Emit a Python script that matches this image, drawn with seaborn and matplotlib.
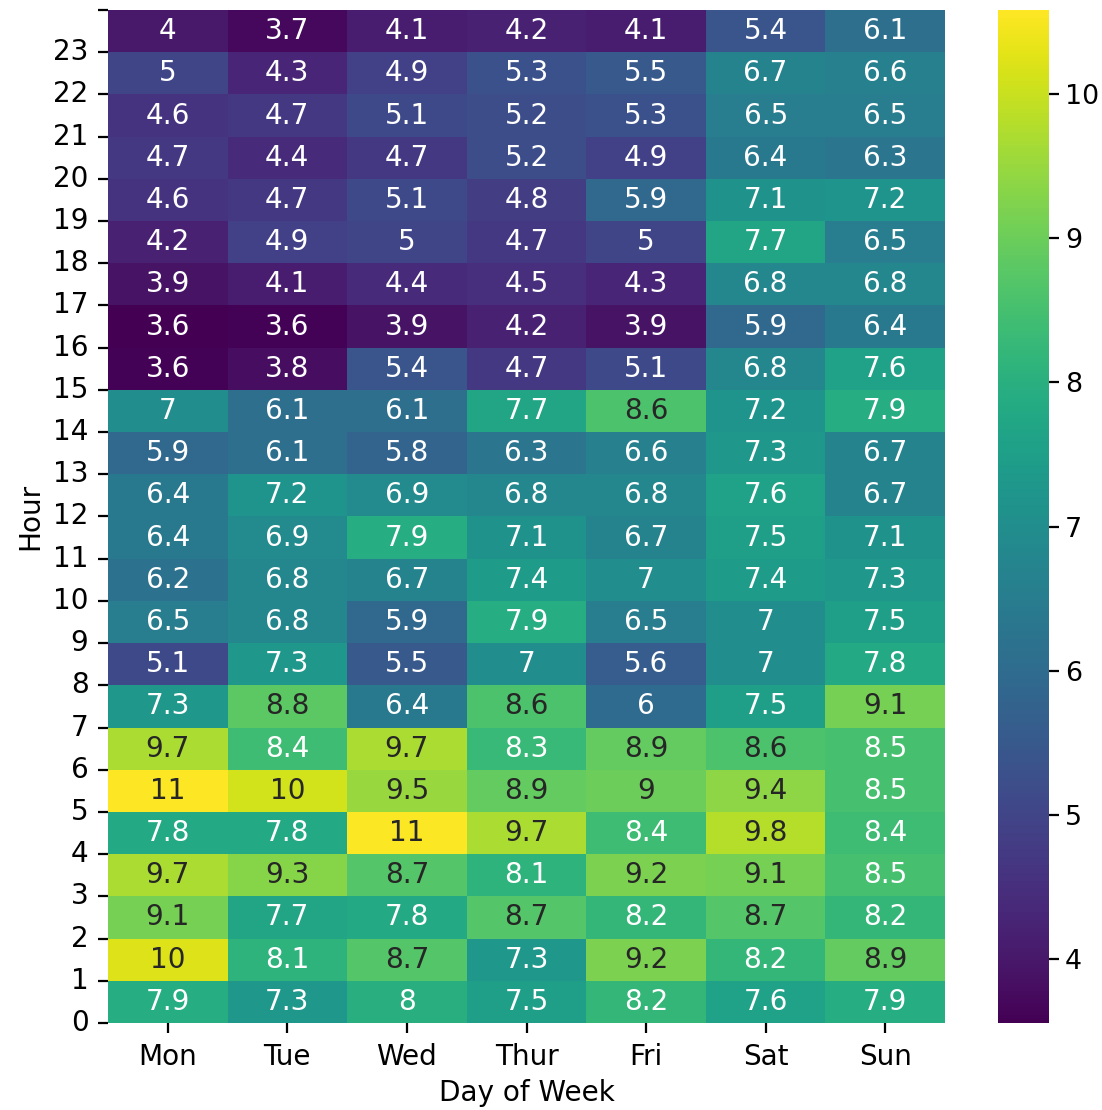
import numpy as np
import pandas as pd
import matplotlib
matplotlib.use('Agg')
import matplotlib.pyplot as plt
import seaborn as sns

days = ['Mon', 'Tue', 'Wed', 'Thur', 'Fri', 'Sat', 'Sun']
hours = list(range(24))

# one list per hour, 0 -> 23, values per day Mon..Sun
h00 = [7.9, 7.3, 8.0, 7.5, 8.2, 7.6, 7.9]
h01 = [10.2, 8.1, 8.7, 7.3, 9.2, 8.2, 8.9]
h02 = [9.1, 7.7, 7.8, 8.7, 8.2, 8.7, 8.2]
h03 = [9.7, 9.3, 8.7, 8.1, 9.2, 9.1, 8.5]
h04 = [7.8, 7.8, 10.55, 9.7, 8.4, 9.8, 8.4]
h05 = [10.58, 10.1, 9.5, 8.9, 9.0, 9.4, 8.5]
h06 = [9.7, 8.4, 9.7, 8.3, 8.9, 8.6, 8.5]
h07 = [7.3, 8.8, 6.4, 8.6, 6.0, 7.5, 9.1]
h08 = [5.1, 7.3, 5.5, 7.0, 5.6, 7.0, 7.8]
h09 = [6.5, 6.8, 5.9, 7.9, 6.5, 7.0, 7.5]
h10 = [6.2, 6.8, 6.7, 7.4, 7.0, 7.4, 7.3]
h11 = [6.4, 6.9, 7.9, 7.1, 6.7, 7.5, 7.1]
h12 = [6.4, 7.2, 6.9, 6.8, 6.8, 7.6, 6.7]
h13 = [5.9, 6.1, 5.8, 6.3, 6.6, 7.3, 6.7]
h14 = [7.0, 6.1, 6.1, 7.7, 8.6, 7.2, 7.9]
h15 = [3.6, 3.8, 5.4, 4.7, 5.1, 6.8, 7.6]
h16 = [3.56, 3.6, 3.9, 4.2, 3.9, 5.9, 6.4]
h17 = [3.9, 4.1, 4.4, 4.5, 4.3, 6.8, 6.8]
h18 = [4.2, 4.9, 5.0, 4.7, 5.0, 7.7, 6.5]
h19 = [4.6, 4.7, 5.1, 4.8, 5.9, 7.1, 7.2]
h20 = [4.7, 4.4, 4.7, 5.2, 4.9, 6.4, 6.3]
h21 = [4.6, 4.7, 5.1, 5.2, 5.3, 6.5, 6.5]
h22 = [5.0, 4.3, 4.9, 5.3, 5.5, 6.7, 6.6]
h23 = [4.0, 3.7, 4.1, 4.2, 4.1, 5.4, 6.1]

rows = [h00, h01, h02, h03, h04, h05, h06, h07, h08, h09, h10, h11,
        h12, h13, h14, h15, h16, h17, h18, h19, h20, h21, h22, h23]
df = pd.DataFrame(rows, index=hours, columns=days)

s = 1.34
plt.rcParams['font.size'] = 10 * s
for a in ('xtick', 'ytick'):
    plt.rcParams[a + '.major.size'] = 3.5 * s
    plt.rcParams[a + '.major.width'] = 0.8 * s
    plt.rcParams[a + '.major.pad'] = 3.5 * s

fig = plt.figure(figsize=(7.347, 7.4), dpi=150)
ax = fig.add_axes([0.098, 0.0784, 0.7595, 0.9126])
cax = fig.add_axes([0.906, 0.0784, 0.046, 0.9126])

sns.heatmap(df, cmap='viridis', annot=True, fmt='.2g', ax=ax, cbar_ax=cax)
ax.invert_yaxis()

ax.set_yticks(np.arange(25))
ax.set_yticklabels([str(h) for h in hours] + [''], rotation=0)
ax.set_xlabel('Day of Week')
ax.set_ylabel('Hour')
cax.tick_params(pad=3.0, labelsize=12.9)

plt.savefig('out.png', dpi=150)
